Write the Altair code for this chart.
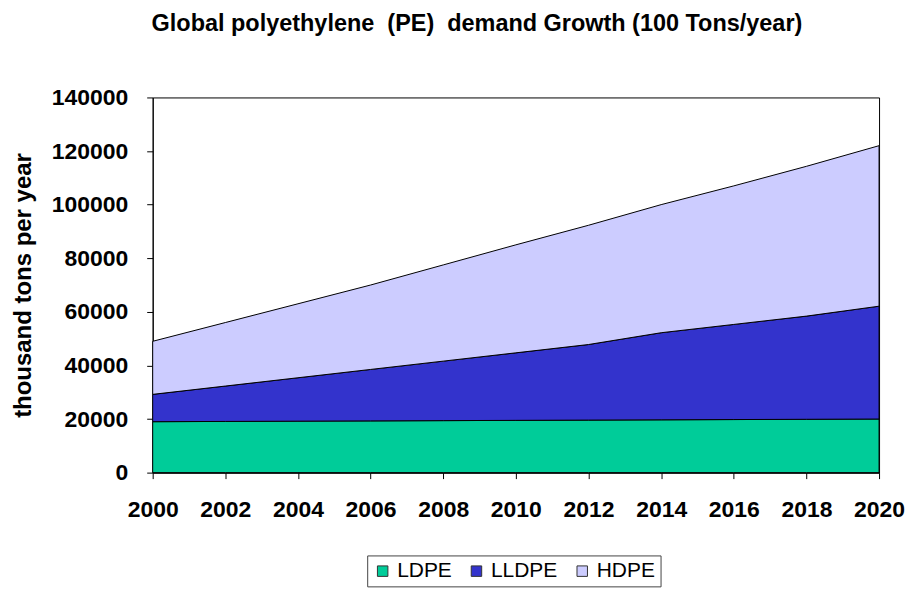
import altair as alt
import pandas as pd

years = [2000, 2002, 2004, 2006, 2008, 2010, 2012, 2014, 2016, 2018, 2020]
series = ["LDPE", "LLDPE", "HDPE"]
colors = ["#00CC99", "#3333CC", "#CCCCFF"]
ldpe = [19000, 19100, 19200, 19300, 19400, 19500, 19600, 19700, 19800, 19900, 20000]
lldpe = [10200, 13200, 16200, 19200, 22200, 25200, 28200, 32500, 35500, 38500, 42100]
hdpe = [19800, 23700, 27600, 31500, 35900, 40300, 44500, 47800, 51700, 55900, 59900]
y_ticks = [0, 20000, 40000, 60000, 80000, 100000, 120000, 140000]

rows = []
for k, (name, vals) in enumerate(zip(series, [ldpe, lldpe, hdpe])):
    for yr, v in zip(years, vals):
        rows.append({"year": yr, "value": v, "series": name, "order": k})
df = pd.DataFrame(rows)

FONT = "Liberation Sans"

chart = alt.Chart(df).mark_area(stroke="black", strokeWidth=1, opacity=1).encode(
    x=alt.X("year:Q",
            scale=alt.Scale(domain=[2000, 2020], nice=False, zero=False),
            axis=alt.Axis(values=years, format="d", title=None, grid=False,
                          labelFont=FONT, labelFontSize=23, labelFontWeight="bold",
                          labelColor="black", domainColor="black", tickColor="black",
                          tickSize=6, labelPadding=20, labelFlush=False)),
    y=alt.Y("value:Q", stack="zero",
            scale=alt.Scale(domain=[0, 140000], nice=False),
            axis=alt.Axis(values=y_ticks, format="d", title="thousand tons per year",
                          grid=False, labelFont=FONT, labelFontSize=23,
                          labelFontWeight="bold", labelColor="black",
                          domainColor="black", tickColor="black", tickSize=6,
                          labelPadding=19, titleFont=FONT, titleFontSize=24,
                          titleFontWeight="bold", titleColor="black",
                          titlePadding=16)),
    color=alt.Color("series:N",
                    scale=alt.Scale(domain=series, range=colors),
                    legend=alt.Legend(title=None, orient="none", direction="horizontal",
                                      legendX=215, legendY=459,
                                      strokeColor="#444", padding=5,
                                      symbolType="square", symbolSize=110,
                                      symbolStrokeColor="#333", symbolStrokeWidth=1,
                                      labelFont=FONT, labelFontSize=21,
                                      labelColor="black", labelOffset=4)),
    order=alt.Order("order:Q"),
).properties(
    width=728,
    height=376,
    autosize=alt.AutoSizeParams(type="none"),
    padding={"left": 145, "top": 89, "right": 28, "bottom": 117},
    title=alt.TitleParams(
        text="Global polyethylene\u00a0 (PE)\u00a0 demand Growth (100 Tons/year)",
        font=FONT, fontSize=23.5, fontWeight="bold", color="black",
        anchor="middle", dx=-39, offset=51),
).configure_view(stroke="black", strokeWidth=1).configure_legend(columnPadding=14)

chart.save("out.html", embed_options={"renderer": "svg", "actions": False})
